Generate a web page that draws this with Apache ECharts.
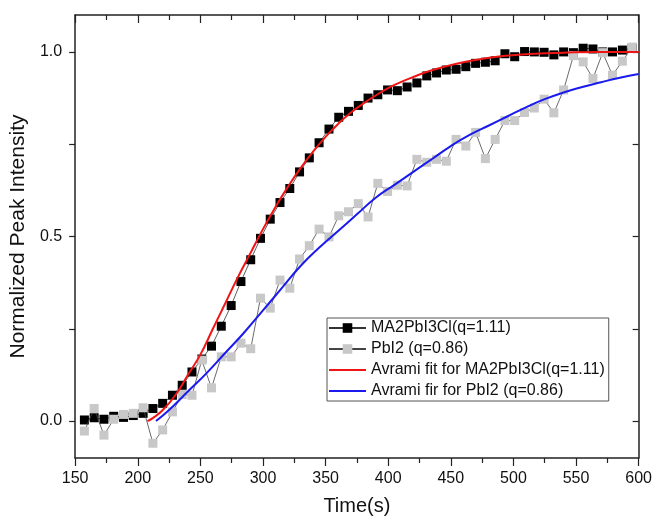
<!DOCTYPE html>
<html>
<head>
<meta charset="utf-8">
<script src="https://cdn.jsdelivr.net/npm/echarts@6/dist/echarts.min.js"></script>
<style>
  html, body { margin: 0; padding: 0; background: #fff; }
  #chart { width: 655px; height: 523px; }
</style>
</head>
<body>
<div id="chart"></div>
<script>
// measurement times (s)
const times = [157.4, 165.2, 173.0, 180.8, 188.6, 196.4, 204.3, 212.1, 219.9, 227.7,
  235.5, 243.3, 251.1, 258.9, 266.7, 274.6, 282.4, 290.2, 298.0, 305.8,
  313.6, 321.4, 329.2, 337.0, 344.8, 352.7, 360.5, 368.3, 376.1, 383.9,
  391.7, 399.5, 407.3, 415.1, 422.9, 430.8, 438.6, 446.4, 454.2, 462.0,
  469.8, 477.6, 485.4, 493.2, 501.0, 508.9, 516.7, 524.5, 532.3, 540.1,
  547.9, 555.7, 563.5, 571.3, 579.1, 587.0, 594.8];

// MA2PbI3Cl normalized intensity
const ma2Values = [0.003, 0.009, 0.005, 0.013, 0.010, 0.015, 0.021, 0.034, 0.048, 0.070,
  0.097, 0.133, 0.168, 0.203, 0.257, 0.313, 0.378, 0.437, 0.495, 0.547,
  0.592, 0.630, 0.675, 0.713, 0.754, 0.791, 0.823, 0.839, 0.855, 0.875,
  0.884, 0.897, 0.895, 0.905, 0.916, 0.935, 0.943, 0.951, 0.953, 0.960,
  0.969, 0.972, 0.976, 0.995, 0.987, 1.001, 1.000, 0.999, 0.992, 1.000,
  0.998, 1.010, 1.008, 1.000, 1.000, 1.005, 1.010];

// PbI2 normalized intensity
const pbi2Values = [-0.027, 0.034, -0.038, 0.005, 0.018, 0.021, 0.036, -0.060, -0.024, 0.025,
  0.072, 0.070, 0.165, 0.090, 0.174, 0.174, 0.211, 0.196, 0.333, 0.306,
  0.382, 0.360, 0.439, 0.475, 0.520, 0.499, 0.556, 0.567, 0.589, 0.553,
  0.644, 0.622, 0.639, 0.637, 0.709, 0.701, 0.709, 0.704, 0.763, 0.745,
  0.782, 0.711, 0.763, 0.814, 0.814, 0.836, 0.848, 0.872, 0.835, 0.897,
  0.990, 0.973, 0.928, 0.998, 0.937, 0.975, 1.013];

// Avrami fit curves
const redTimes = [207.7, 212, 220, 230, 240, 250, 260, 270, 280, 290, 300, 310, 320, 330,
  340, 350, 360, 370, 380, 390, 400, 410, 420, 430, 445, 460, 475, 490, 510, 540, 570, 600];
const redValues = [0.0, 0.008, 0.03, 0.07, 0.125, 0.18, 0.25, 0.32, 0.39, 0.455, 0.52, 0.58, 0.635, 0.685,
  0.73, 0.77, 0.805, 0.835, 0.86, 0.882, 0.902, 0.918, 0.932, 0.945, 0.96, 0.972, 0.981, 0.988, 0.994, 0.998, 1.0, 1.0];

const blueTimes = [214.6, 225, 240, 255, 270, 285, 300, 315, 330, 345, 360, 375, 390, 405,
  420, 435, 450, 465, 480, 495, 510, 525, 540, 555, 570, 585, 600];
const blueValues = [0.0, 0.03, 0.08, 0.13, 0.185, 0.24, 0.3, 0.36, 0.42, 0.47, 0.515, 0.56, 0.605, 0.64,
  0.675, 0.71, 0.745, 0.775, 0.8, 0.825, 0.85, 0.872, 0.89, 0.905, 0.918, 0.93, 0.94];

const yTickValues = [0, 0.25, 0.5, 0.75, 1.0];
const yLabelValues = [0, 0.5, 1.0];

const seriesNames = ["MA2PbI3Cl(q=1.11)", "PbI2 (q=0.86)",
  "Avrami fit for MA2PbI3Cl(q=1.11)", "Avrami fir for PbI2 (q=0.86)"];

const FONT = "'Liberation Sans', Arial, sans-serif";
const axisColor = "#222";
// plain line used as legend icon for the fit curves
const lineIcon = "path://M0,0 L37,0 L37,2 L0,2 Z";

const pairs = (xs, ys) => xs.map((x, i) => [x, ys[i]]);

const chart = echarts.init(document.getElementById("chart"));

const xBase = {
  type: "value",
  min: 150,
  max: 600,
  interval: 50,
  splitLine: { show: false },
  axisLine: { onZero: false, lineStyle: { color: axisColor, width: 1.5 } },
  axisTick: { length: 8, lineStyle: { color: axisColor, width: 1.2 } },
  minorTick: { show: true, splitNumber: 2, length: 5, lineStyle: { color: axisColor, width: 1.2 } },
};

const yBase = {
  type: "value",
  min: -0.1,
  max: 1.1,
  splitLine: { show: false },
  axisLine: { onZero: false, lineStyle: { color: axisColor, width: 1.5 } },
  axisTick: { length: 6, customValues: yTickValues, lineStyle: { color: axisColor, width: 1.2 } },
};

const option = {
  animation: false,
  backgroundColor: "#fff",
  textStyle: { fontFamily: FONT },
  grid: { left: 75, right: 16, top: 15, bottom: 65 },
  legend: {
    orient: "vertical",
    left: 327,
    top: 318,
    data: [
      { name: seriesNames[0] },
      { name: seriesNames[1] },
      { name: seriesNames[2], icon: lineIcon },
      { name: seriesNames[3], icon: lineIcon },
    ],
    backgroundColor: "#fff",
    borderColor: "#555",
    borderWidth: 1,
    borderRadius: 0,
    padding: [2, 4, 2, 1],
    itemGap: 5,
    itemWidth: 37,
    itemHeight: 12,
    textStyle: { fontFamily: FONT, fontSize: 16, color: "#111", lineHeight: 16 },
  },
  xAxis: [
    {
      ...xBase,
      position: "bottom",
      name: "Time(s)",
      nameLocation: "middle",
      nameGap: 38,
      nameTextStyle: { fontFamily: FONT, fontSize: 20, color: "#111" },
      axisLabel: { margin: 13, fontFamily: FONT, fontSize: 16, color: "#111" },
    },
    {
      ...xBase,
      position: "top",
      axisTick: { ...xBase.axisTick, inside: true },
      axisLabel: { show: false },
    },
  ],
  yAxis: [
    {
      ...yBase,
      position: "left",
      name: "Normalized Peak Intensity",
      nameLocation: "middle",
      nameGap: 39,
      nameTextStyle: { fontFamily: FONT, fontSize: 21, color: "#111" },
      axisLabel: {
        margin: 13,
        customValues: yLabelValues,
        fontFamily: FONT,
        fontSize: 16,
        color: "#111",
        formatter: (v) => v.toFixed(1),
      },
    },
    {
      ...yBase,
      position: "right",
      axisTick: { ...yBase.axisTick, inside: true },
      axisLabel: { show: false },
    },
  ],
  series: [
    {
      name: seriesNames[0],
      type: "line",
      data: pairs(times, ma2Values),
      symbol: "rect",
      symbolSize: 9,
      itemStyle: { color: "#000" },
      lineStyle: { color: "#333", width: 0.8 },
      z: 2,
    },
    {
      name: seriesNames[1],
      type: "line",
      data: pairs(times, pbi2Values),
      symbol: "rect",
      symbolSize: 9,
      itemStyle: { color: "#c8c8c8" },
      lineStyle: { color: "#444", width: 0.8 },
      z: 3,
    },
    {
      name: seriesNames[2],
      type: "line",
      data: pairs(redTimes, redValues),
      symbol: "none",
      smooth: true,
      itemStyle: { color: "#f01515" },
      lineStyle: { color: "#f01515", width: 2 },
      z: 4,
    },
    {
      name: seriesNames[3],
      type: "line",
      data: pairs(blueTimes, blueValues),
      symbol: "none",
      smooth: true,
      itemStyle: { color: "#1a1aee" },
      lineStyle: { color: "#1a1aee", width: 2 },
      z: 5,
    },
  ],
};

chart.setOption(option);
</script>
</body>
</html>
